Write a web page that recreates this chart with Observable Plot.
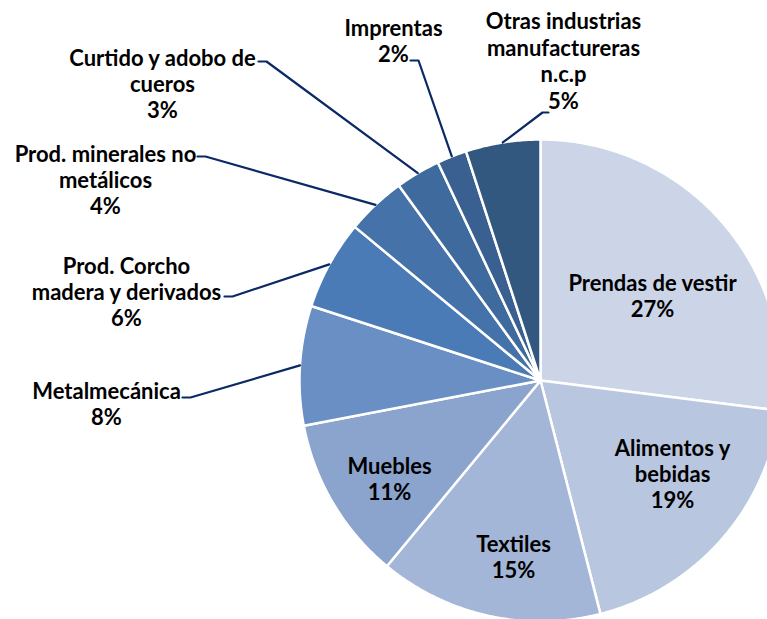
<!DOCTYPE html>
<html><head><meta charset="utf-8">
<script src="https://cdn.jsdelivr.net/npm/d3@7"></script>
<script src="https://cdn.jsdelivr.net/npm/@observablehq/plot@0.6"></script>
<style>html,body{margin:0;padding:0;overflow:hidden;background:#fff}</style>
</head><body><div id="chart"></div>
<script>
// ---- data ----
const categories = ["Prendas de vestir","Alimentos y bebidas","Textiles","Muebles","Metalmecánica","Prod. Corcho madera y derivados","Prod. minerales no metálicos","Curtido y adobo de cueros","Imprentas","Otras industrias manufactureras n.c.p"];
const labelText = ["Prendas de vestir","Alimentos y\nbebidas","Textiles","Muebles","Metalmecánica","Prod. Corcho\nmadera y derivados","Prod. minerales no\nmetálicos","Curtido y adobo de\ncueros","Imprentas","Otras industrias\nmanufactureras\nn.c.p"];
const values = [27,19,15,11,8,6,4,3,2,5];
const colors = ["#CCD5E8","#B9C6E0","#A4B6D7","#8BA4CD","#6A8FC4","#4A7BB7","#4572A9","#3F6A9D","#3A6091","#33587F"];

// ---- layout (pixel offsets from pie centre) ----
const labelPos = [[112,-85],[132,93],[-27,176],[-151,98],[-434,23],[-414,-89],[-435,-201],[-378,-297],[-147,-340],[23,-320]];
const elbows = [null,null,null,null,[-350,17],[-308,-84],[-335,-224],[-274,-319],[-122,-320],[2,-268]];
const elbowEnd = [0,0,0,0,-8,-8,-8,-8,-8,6];
const R = 241;

const total = d3.sum(values);
let acc = 0;
const slices = values.map((v, i) => {
  const a0 = acc / total * 2 * Math.PI; acc += v;
  const a1 = acc / total * 2 * Math.PI;
  return {cat: categories[i], a0, a1, mid: (a0 + a1) / 2, pct: Math.round(v / total * 100) + "%", i};
});
const wedgeRows = slices.flatMap(s => {
  const n = Math.max(2, Math.ceil((s.a1 - s.a0) / (Math.PI / 360)));
  const pts = [{cat: s.cat, x: 0, y: 0}];
  for (let k = 0; k <= n; k++) {
    const a = s.a0 + (s.a1 - s.a0) * k / n;
    pts.push({cat: s.cat, x: R * Math.sin(a), y: -R * Math.cos(a)});
  }
  return pts;
});
const leaderRows = slices.filter(s => elbows[s.i]).flatMap(s => {
  const e = elbows[s.i];
  return [
    {cat: s.cat, x: R * Math.sin(s.mid), y: -R * Math.cos(s.mid)},
    {cat: s.cat, x: e[0], y: e[1]},
    {cat: s.cat, x: e[0] + elbowEnd[s.i], y: e[1]}
  ];
});
const textRows = slices.map(s => ({x: labelPos[s.i][0], y: labelPos[s.i][1], text: labelText[s.i] + "\n" + s.pct}));

const chart = Plot.plot({
  width: 767, height: 619, margin: 0,
  x: {domain: [-540, 227], range: [0, 767], axis: null},
  y: {domain: [-380, 239], range: [0, 619], axis: null},
  color: {domain: categories, range: colors},
  style: {background: "white"},
  marks: [
    Plot.line(wedgeRows, {x: "x", y: "y", z: "cat", fill: "cat", stroke: "white", strokeWidth: 2.5, curve: "linear-closed"}),
    Plot.line(leaderRows, {x: "x", y: "y", z: "cat", stroke: "#0A2966", strokeWidth: 2.2}),
    Plot.text(textRows, {x: "x", y: "y", text: "text", fontSize: 22, fontWeight: "bold", fontFamily: "Lato", fill: "black", lineHeight: 1.2})
  ]
});
document.getElementById("chart").appendChild(chart);
</script>
</body></html>
